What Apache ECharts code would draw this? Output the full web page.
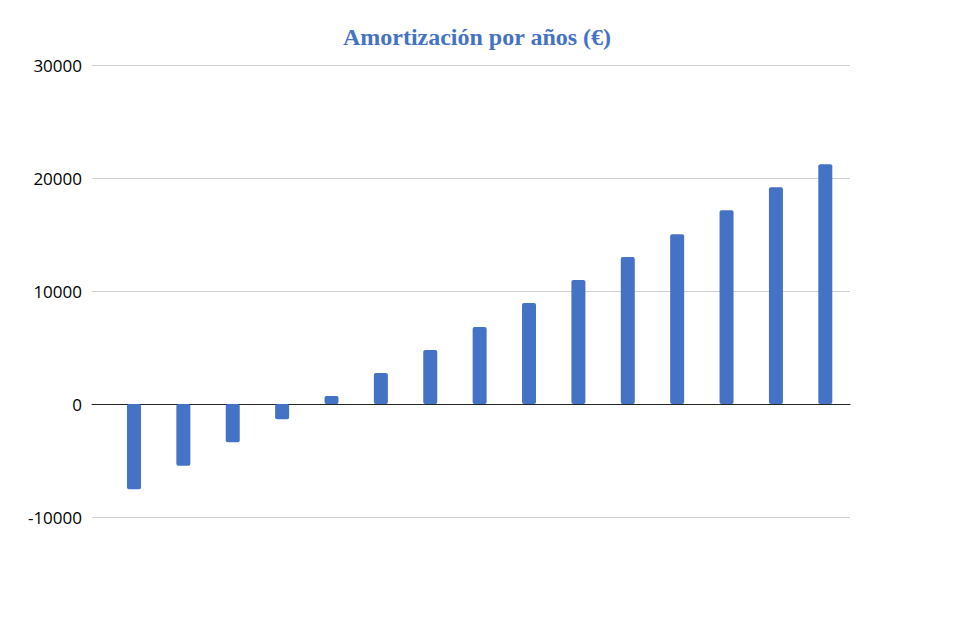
<!DOCTYPE html>
<html>
<head>
<meta charset="utf-8">
<script src="https://cdn.jsdelivr.net/npm/echarts@6/dist/echarts.min.js"></script>
<style>
  html, body { margin: 0; padding: 0; background: #fff; }
  #chart { width: 954px; height: 635px; }
</style>
</head>
<body>
<div id="chart"></div>
<script>
// Datos
const years = [1, 2, 3, 4, 5, 6, 7, 8, 9, 10, 11, 12, 13, 14, 15];
const amortizacion = [-7550, -5460, -3390, -1350, 710, 2740, 4780, 6810, 8940, 10970, 13000, 15020, 17140, 19180, 21210];
const yTicks = [-10000, 0, 10000, 20000, 30000];

const chart = echarts.init(document.getElementById('chart'), null, { renderer: 'svg' });

chart.setOption({
    animation: false,
    title: {
        text: 'Amortización por años (€)',
        left: 'center',
        top: 20,
        textStyle: {
            fontFamily: 'Liberation Serif',
            fontWeight: 'bold',
            fontSize: 24,
            color: '#4472C4'
        }
    },
    grid: {
        left: 92,
        right: 104,
        top: 65,
        bottom: 118,
        containLabel: false
    },
    xAxis: {
        type: 'value',
        min: 0.15,
        max: 15.5,
        axisLine: { onZero: true, lineStyle: { color: '#262626', width: 1 } },
        axisTick: { show: false },
        axisLabel: { show: false },
        splitLine: { show: false }
    },
    yAxis: {
        type: 'value',
        min: yTicks[0],
        max: yTicks[yTicks.length - 1],
        interval: 10000,
        axisLine: { show: false },
        axisTick: { show: false },
        axisLabel: {
            margin: 10,
            fontFamily: 'Open Sans',
            fontSize: 17,
            color: '#000',
            formatter: v => String(v)
        },
        splitLine: { lineStyle: { color: '#d0d0d0', width: 1 } }
    },
    series: [{
        type: 'bar',
        data: years.map((y, i) => [y, amortizacion[i]]),
        barWidth: 14,
        itemStyle: { color: '#4472C4', borderRadius: 2 }
    }]
});
</script>
</body>
</html>
